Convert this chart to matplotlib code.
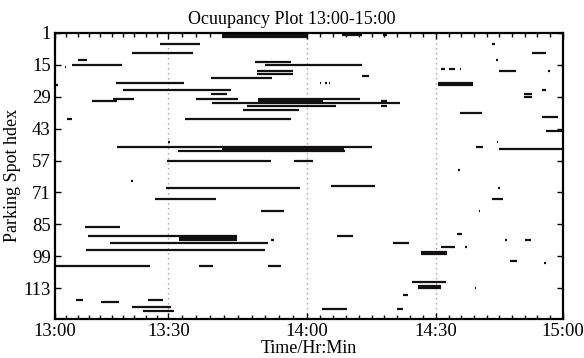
import numpy as np
import matplotlib
matplotlib.use("Agg")
import matplotlib.pyplot as plt

plt.rcParams['font.family'] = ['Liberation Serif', 'DejaVu Serif']

# ---------------- data (minutes after 13:00, parking spot index) ----------------
spot = [2, 3, 2, 2, 6, 6, 10, 10, 13, 13, 14, 15, 15, 16,
        17, 17, 17, 18, 19, 18, 18, 20, 21, 23, 23, 23, 23, 23, 24, 24,
        26, 26, 28, 28, 29, 30, 31, 30, 30, 31, 32, 33, 31, 33,
        35, 36, 38, 39, 39, 44, 49, 49, 51, 51, 52, 52, 53, 57, 57,
        61, 66, 68, 69, 69, 74, 74, 79, 79, 86, 89, 90, 90, 91, 92,
        92, 92, 92, 93, 93, 95, 95, 96, 97, 98, 101, 102, 103, 103, 103,
        110, 112, 113, 113, 116, 118, 118, 119, 121, 122, 122, 123]
start = [41.5, 41.5, 68.1, 77.7, 27.7, 103.3, 20.5, 112.8, 6.0, 104.3, 48.8, 4.6, 50.9, 2.6,
         91.3, 93.0, 95.6, 49.2, 49.2, 105.0, 116.6, 72.9, 39.3, 16.2, 62.9, 64.2, 65.0, 90.5, 90.5, 0.3,
         18.1, 115.2, 39.3, 110.8, 110.8, 15.3, 9.7, 36.0, 49.4, 49.4, 39.4, 47.1, 77.3, 77.3,
         46.2, 95.7, 115.2, 3.1, 33.7, 116.2, 29.8, 104.4, 16.4, 99.4, 41.6, 105.0, 32.1, 29.6, 57.1,
         95.2, 20.1, 65.6, 29.5, 104.8, 26.6, 103.2, 50.1, 100.1, 8.0, 94.9, 8.7, 67.0, 32.2, 32.2,
         52.3, 106.4, 111.2, 14.6, 80.0, 91.1, 96.9, 8.2, 86.6, 86.6, 107.5, 115.7, 0.0, 36.6, 51.5,
         84.5, 85.8, 85.8, 99.2, 82.4, 5.5, 24.6, 12.2, 20.5, 63.4, 81.0, 23.3]
end = [60.0, 60.0, 72.9, 78.6, 36.9, 104.0, 35.3, 116.2, 8.6, 104.7, 56.6, 17.7, 72.7, 3.0,
       92.2, 94.6, 96.0, 56.9, 56.9, 108.9, 117.0, 74.5, 52.5, 33.3, 63.2, 64.7, 65.3, 98.7, 98.7, 0.8,
       43.6, 116.2, 42.7, 112.8, 112.8, 21.0, 16.4, 45.1, 72.4, 63.7, 81.6, 66.8, 78.6, 78.6,
       58.3, 100.8, 118.9, 4.4, 56.6, 120.0, 30.3, 104.8, 75.2, 101.2, 68.6, 120.0, 68.8, 52.2, 61.5,
       95.6, 20.6, 75.9, 58.5, 105.2, 40.3, 105.8, 55.0, 100.5, 17.3, 96.1, 44.9, 70.6, 44.9, 44.9,
       52.8, 106.8, 112.6, 51.6, 83.7, 94.5, 97.3, 51.0, 92.5, 92.5, 109.1, 116.1, 25.2, 39.7, 54.4,
       92.4, 91.3, 91.3, 99.6, 83.6, 7.5, 28.5, 17.0, 30.6, 69.2, 82.4, 31.3]

major_min = [0, 30, 60, 90, 120]
major_labels = ['13:00', '13:30', '14:00', '14:30', '15:00']
marker_min = [30, 60, 90]
y_ticks = [1, 15, 29, 43, 57, 71, 85, 99, 113]

# horizontal scale of the scanned axis (uneven spacing between half hours)
KNOT_MIN = [0, 30, 60, 90, 120]
KNOT_POS = [0, 22.33, 49.66, 75.07, 100]


def fwd(x):
    return np.interp(x, KNOT_MIN, KNOT_POS)


def inv(y):
    return np.interp(y, KNOT_POS, KNOT_MIN)


fig = plt.figure(figsize=(5.84, 3.58), dpi=100)
ax = fig.add_axes([0.0942, 0.109, 0.8690, 0.7998])
ax.set_xscale('function', functions=(fwd, inv))

ax.hlines(spot, start, end, colors='#111111', linewidth=1.6)
for m in marker_min:
    ax.axvline(m, color='#c98a8a', linestyle=(0, (1, 2.6)), linewidth=1.0, zorder=0)

ax.set_xlim(0, 120)
ax.set_ylim(126.4, 1)
ax.set_xticks(major_min)
ax.set_xticklabels(major_labels)
ax.set_xticks(np.arange(0, 121, 3), minor=True)
ax.set_yticks(y_ticks)
ax.set_yticklabels([str(v) for v in y_ticks])

ax.tick_params(axis='both', which='both', direction='in', top=True, right=True,
               labelsize=13.5, width=1.0)
ax.tick_params(axis='both', which='major', length=4, pad=3)
ax.tick_params(axis='x', which='minor', length=3)
for s in ax.spines.values():
    s.set_linewidth(1.6)

fig.text(0.5, 0.945, 'Ocuupancy Plot 13:00-15:00', fontsize=13, ha='center', va='center')
ax.set_xlabel('Time/Hr:Min', fontsize=13, labelpad=0)
ax.set_ylabel('Parking Spot hdex', fontsize=13, labelpad=2)

fig.savefig('out.png', dpi=100)
